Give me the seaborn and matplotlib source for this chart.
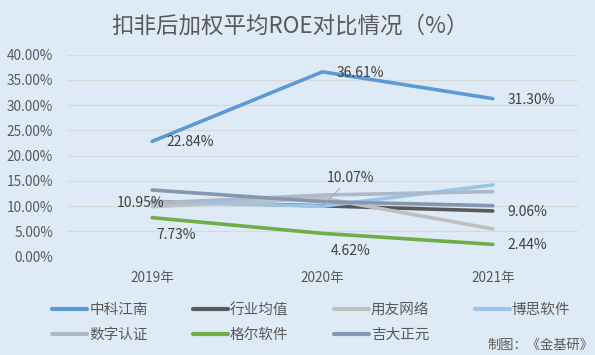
import matplotlib
matplotlib.use("Agg")
import matplotlib.pyplot as plt
import pandas as pd
import seaborn as sns

# 数据
anos = ["2019年", "2020年", "2021年"]
empresas = ["中科江南", "行业均值", "用友网络", "博思软件", "数字认证", "格尔软件", "吉大正元"]
zkjn = [22.84, 36.61, 31.30]
hyjz = [10.95, 10.07, 9.06]
yywl = [9.9, 11.6, 5.5]
bsrj = [10.9, 10.0, 14.2]
szrz = [10.6, 12.2, 12.9]
gerj = [7.73, 4.62, 2.44]
jdzy = [13.2, 10.9, 10.1]

cores = ["#5B9BD5", "#595959", "#BFBFBF", "#9DC3E6", "#ADB9CA", "#70AD47", "#8497B0"]

valores = [zkjn, hyjz, yywl, bsrj, szrz, gerj, jdzy]
linhas = []
for emp, vals in zip(empresas, valores):
    for i, v in enumerate(vals):
        linhas.append({"ano": i, "empresa": emp, "roe": v})
dados = pd.DataFrame(linhas)

sns.set_style("white")
plt.rcParams['font.family'] = ['Noto Sans CJK SC', 'DejaVu Sans']

fundo = "#DEEBF7"
fig = plt.figure(figsize=(5.95, 3.55), dpi=100, facecolor=fundo)
ax = fig.add_axes([67 / 595, 1 - 256.7 / 355, 511 / 595, 202 / 355])
ax.set_facecolor(fundo)

sns.lineplot(data=dados, x="ano", y="roe", hue="empresa", hue_order=empresas,
             palette=cores, linewidth=2.6, ax=ax, legend=False,
             solid_capstyle="round")

ax.set_xlim(-0.5, 2.5)
ax.set_ylim(0, 40)
ax.set_xticks(range(3))
ax.set_xticklabels(anos)
ax.set_yticks(range(0, 41, 5))
ax.set_yticklabels([f"{v:.2f}%" for v in range(0, 41, 5)])
ax.tick_params(length=0, labelsize=9.8, colors="#595959")
ax.tick_params(axis="y", pad=10)
ax.tick_params(axis="x", pad=10)
ax.grid(axis="y", color="#D9D9D9", linewidth=1)
ax.set_axisbelow(True)
for s in ax.spines.values():
    s.set_visible(False)
ax.set_xlabel("")
ax.set_ylabel("")

# Rótulos dos dados
cor_txt = "#404040"
def rotulo(i, v, dx, dy, ha="left", seta=False):
    kw = {}
    if seta:
        kw["arrowprops"] = dict(arrowstyle="-", color="#A6A6A6", lw=0.7,
                                shrinkA=0, shrinkB=0)
    ax.annotate(f"{v:.2f}%", (i, v), xytext=(dx, dy), textcoords="offset points",
                ha=ha, va="center", fontsize=10, color=cor_txt, **kw)

for i in range(3):
    rotulo(i, zkjn[i], 10.5, -0.8)
rotulo(2, hyjz[2], 10.5, -0.8)
rotulo(2, gerj[2], 10.5, -0.5)
rotulo(0, hyjz[0], -8, -1, ha="center")
rotulo(1, hyjz[1], 20, 20, ha="center", seta=True)
rotulo(0, gerj[0], 17, -12.5, ha="center")
rotulo(1, gerj[1], 20, -12.5, ha="center")

# Título
fig.text(290 / 595, 1 - 26 / 355, "扣非后加权平均ROE对比情况（%）", ha="center", va="center",
         fontsize=16.2, color="#595959")

# Legenda (preenchida por coluna, então reordena para ficar por linha)
ordem = [0, 4, 1, 5, 2, 6, 3]
handles = [plt.Line2D([], [], color=cores[k], lw=3, solid_capstyle="round") for k in ordem]
nomes = [empresas[k] for k in ordem]
fig.legend(handles, nomes, ncol=4, loc="upper left",
           bbox_to_anchor=(52 / 595, 1 - 303 / 355), frameon=False,
           fontsize=10.5, handlelength=2.4, handletextpad=0.15,
           columnspacing=3.1, labelspacing=0.75, borderpad=0, borderaxespad=0,
           labelcolor="#595959")

fig.text(593 / 595, 1 - 345 / 355, "制图：《金基研》", ha="right", va="center",
         fontsize=9.5, color="#595959")

fig.savefig("out.png", dpi=100, facecolor=fundo)
